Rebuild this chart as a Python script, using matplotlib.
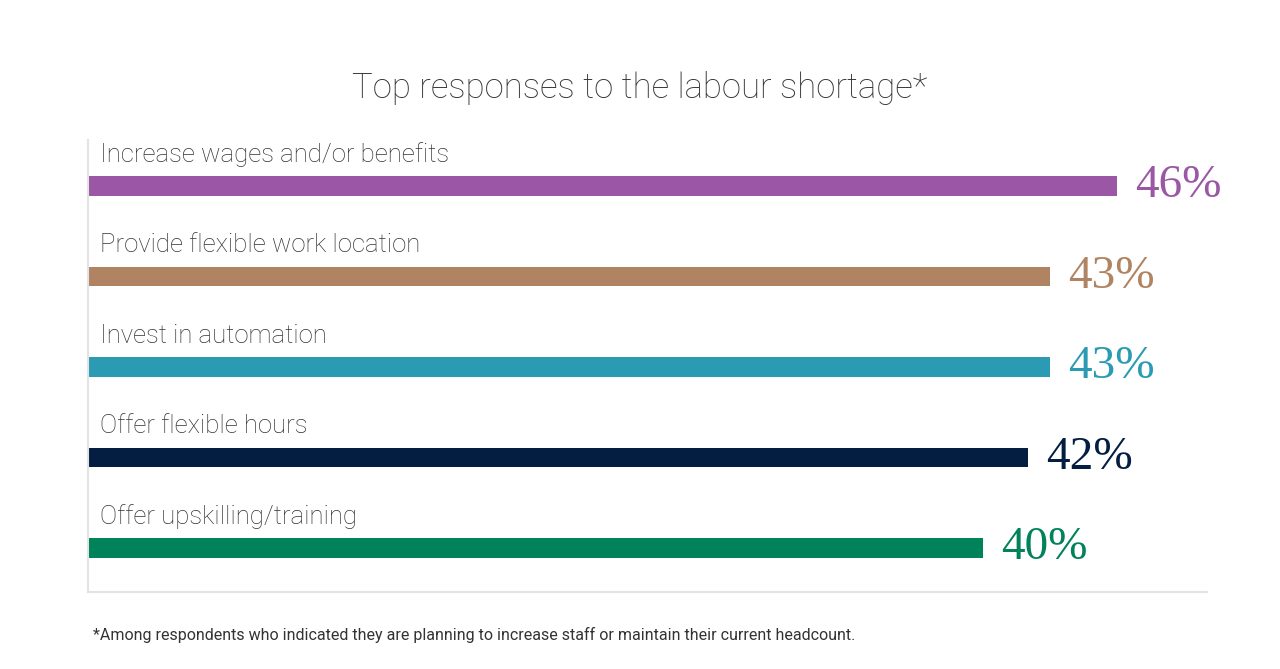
import matplotlib
matplotlib.use("Agg")
import matplotlib.pyplot as plt

categories = [
    "Increase wages and/or benefits",
    "Provide flexible work location",
    "Invest in automation",
    "Offer flexible hours",
    "Offer upskilling/training",
]
values = [46, 43, 43, 42, 40]
colors = ["#9b57a6", "#b08462", "#2a9bb2", "#041e42", "#00825a"]

title = "Top responses to the labour shortage*"
footnote = ("*Among respondents who indicated they are planning to increase staff "
            "or maintain their current headcount.")

SANS = "Roboto"
TEXT_COLOR = "#333333"
GRID_COLOR = "#e3e3e3"

fig = plt.figure(figsize=(12.8, 6.69), dpi=100)
ax = fig.add_axes([88 / 1280, 1 - 592 / 669, (1207 - 88) / 1280, (592 - 140) / 669])

ypos = list(range(len(categories)))
ax.barh(ypos, values, height=0.22, color=colors)

ax.set_xlim(0, 50)
ax.set_ylim(4.486, -0.508)

for y, cat, v, c in zip(ypos, categories, values, colors):
    ax.text(0.54, y - 0.345, cat, fontsize=18.5, fontweight="light", family=SANS,
            color=TEXT_COLOR, ha="left", va="center")
    ax.text(v + 0.8, y, f"{v}%", fontsize=34, family="Liberation Serif",
            color=c, ha="left", va="center")

for s in ["top", "right"]:
    ax.spines[s].set_visible(False)
for s in ["left", "bottom"]:
    ax.spines[s].set_color(GRID_COLOR)
    ax.spines[s].set_linewidth(1.5)
ax.set_xticks([])
ax.set_yticks([])

fig.text(0.5, 1 - 88 / 669, title, fontsize=25, fontweight="light", family=SANS,
         color=TEXT_COLOR, ha="center", va="center")
fig.text(93 / 1280, 1 - 635 / 669, footnote, fontsize=11.5, family=SANS,
         color=TEXT_COLOR, ha="left", va="center")

fig.savefig("out.png", dpi=100, facecolor="white")
